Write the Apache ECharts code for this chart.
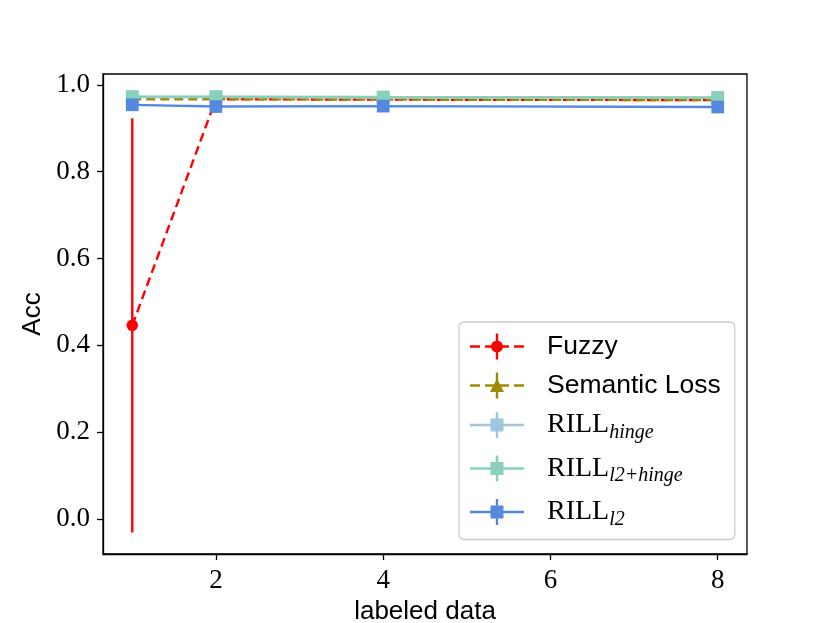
<!DOCTYPE html>
<html>
<head>
<meta charset="utf-8">
<script src="https://cdn.jsdelivr.net/npm/echarts@6/dist/echarts.min.js"></script>
<style>html,body{margin:0;padding:0;background:#fff}#c{width:830px;height:623px}</style>
</head>
<body>
<div id="c"></div>
<script>
// ---- data ----
const labeledData = [1, 2, 4, 8];
const xTicks = [2, 4, 6, 8];
const yTicks = [0.0, 0.2, 0.4, 0.6, 0.8, 1.0];
const fuzzy = [0.446, 0.967, 0.966, 0.965];
const fuzzyErr = [0.477, 0, 0, 0];
const semanticLoss = [0.967, 0.967, 0.966, 0.965];
const rillHinge = [0.972, 0.972, 0.971, 0.970];
const rillL2Hinge = [0.973, 0.973, 0.972, 0.971];
const rillL2 = [0.954, 0.950, 0.951, 0.949];
const seriesNames = ['Fuzzy', 'Semantic Loss', 'RILL_hinge', 'RILL_l2+hinge', 'RILL_l2'];

const colors = {
  'Fuzzy': '#ff0000',
  'Semantic Loss': '#a08a00',
  'RILL_hinge': '#9ec6dd',
  'RILL_l2+hinge': '#88d0bc',
  'RILL_l2': '#5589e0'
};

const pairs = arr => labeledData.map((x, i) => [x, arr[i]]);

// legend icons: line (dashed or solid) + marker + vertical error bar, 54x26 box
const rects = (segs) => segs.map(s => `M${s[0]} 11.8h${s[1]}v2.4h-${s[1]}z`).join(' ');
const vbar = 'M25.8 0h2.4v26h-2.4z';
const dashed = rects([[0, 10], [15, 10], [29, 10], [44, 10]]);
const solid = rects([[0, 54]]);
const circle = 'M21 13A6 6 0 1 1 33 13A6 6 0 1 1 21 13Z';
const tri = 'M27 6L34 19.5L20 19.5Z';
const square = 'M20.5 6.5h13v13h-13z';
const icons = {
  'Fuzzy': 'path://' + dashed + ' ' + vbar + ' ' + circle,
  'Semantic Loss': 'path://' + dashed + ' ' + vbar + ' ' + tri,
  'RILL_hinge': 'path://' + solid + ' ' + vbar + ' ' + square,
  'RILL_l2+hinge': 'path://' + solid + ' ' + vbar + ' ' + square,
  'RILL_l2': 'path://' + solid + ' ' + vbar + ' ' + square
};

const lineSeries = (name, data, symbol, dashedLine, z) => ({
  name: name,
  type: 'line',
  data: pairs(data),
  symbol: symbol,
  symbolSize: symbol === 'circle' ? 11.5 : (symbol === 'triangle' ? 13 : 12.7),
  showAllSymbol: true,
  z: z,
  lineStyle: { color: colors[name], width: 2.4, type: dashedLine ? [9, 5] : 'solid' },
  itemStyle: { color: colors[name], borderWidth: 0 },
  emphasis: { disabled: true },
  animation: false
});

const chart = echarts.init(document.getElementById('c'), null, { renderer: 'canvas' });
const tickFont = { fontFamily: 'Liberation Serif', fontSize: 27, color: '#000' };

chart.setOption({
  backgroundColor: '#fff',
  animation: false,
  grid: { left: 103, right: 83, top: 74, bottom: 69, outerBoundsMode: 'none', containLabel: false, show: true, borderColor: '#000', borderWidth: 1.3, backgroundColor: 'transparent' },
  xAxis: {
    type: 'value', min: 0.65, max: 8.35,
    name: 'labeled data', nameLocation: 'middle', nameGap: 34,
    nameTextStyle: { fontFamily: 'Liberation Sans', fontSize: 26, color: '#000' },
    axisLine: { show: true, onZero: false, lineStyle: { color: '#000', width: 1.3 } },
    axisTick: { show: true, length: 6, lineStyle: { color: '#000', width: 1.3 }, customValues: xTicks },
    axisLabel: Object.assign({ margin: 13, customValues: xTicks, formatter: v => String(v) }, tickFont),
    splitLine: { show: false }
  },
  yAxis: {
    type: 'value', min: -0.0806, max: 1.025,
    name: 'Acc', nameLocation: 'middle', nameGap: 51,
    nameTextStyle: { fontFamily: 'Liberation Sans', fontSize: 26, color: '#000' },
    axisLine: { show: true, onZero: false, lineStyle: { color: '#000', width: 1.3 } },
    axisTick: { show: true, length: 6, lineStyle: { color: '#000', width: 1.3 }, customValues: yTicks },
    axisLabel: Object.assign({ margin: 13, customValues: yTicks, formatter: v => v.toFixed(1) }, tickFont),
    splitLine: { show: false }
  },
  legend: {
    orient: 'vertical',
    left: 459, top: 322,
    padding: [11, 14, 10, 11],
    itemGap: 12,
    itemWidth: 54, itemHeight: 26,
    selectedMode: false,
    backgroundColor: 'rgba(255,255,255,0.8)',
    borderColor: '#cccccc', borderWidth: 1.3, borderRadius: 5,
    itemStyle: { borderWidth: 0 },
    data: seriesNames.map(n => ({ name: n, icon: icons[n] })),
    formatter: function (name) {
      if (name.indexOf('RILL_') === 0) {
        return '{r|RILL}{s|' + name.slice(5) + '}';
      }
      return '{t|' + name + '}';
    },
    textStyle: {
      padding: [0, 0, 0, 18],
      rich: {
        t: { fontFamily: 'Liberation Sans', fontSize: 26.5, lineHeight: 30, color: '#000' },
        r: { fontFamily: 'Liberation Serif', fontSize: 28, lineHeight: 35, color: '#000' },
        s: { fontFamily: 'Liberation Serif', fontStyle: 'italic', fontSize: 20, lineHeight: 21, verticalAlign: 'bottom', color: '#000' }
      }
    }
  },
  series: [
    {
      name: 'Fuzzy err',
      type: 'custom',
      z: 1,
      data: labeledData.map((x, i) => [x, fuzzy[i], fuzzyErr[i]]),
      renderItem: function (params, api) {
        const x = api.value(0), y = api.value(1), e = api.value(2);
        const p1 = api.coord([x, y - e]);
        const p2 = api.coord([x, y + e]);
        return {
          type: 'line',
          shape: { x1: p1[0], y1: p1[1], x2: p2[0], y2: p2[1] },
          style: { stroke: colors['Fuzzy'], lineWidth: 2.4 }
        };
      },
      encode: { x: 0, y: 1 },
      silent: true,
      animation: false
    },
    lineSeries('Fuzzy', fuzzy, 'circle', true, 2),
    lineSeries('Semantic Loss', semanticLoss, 'triangle', true, 3),
    lineSeries('RILL_hinge', rillHinge, 'rect', false, 4),
    lineSeries('RILL_l2+hinge', rillL2Hinge, 'rect', false, 5),
    lineSeries('RILL_l2', rillL2, 'rect', false, 6)
  ]
});
</script>
</body>
</html>
